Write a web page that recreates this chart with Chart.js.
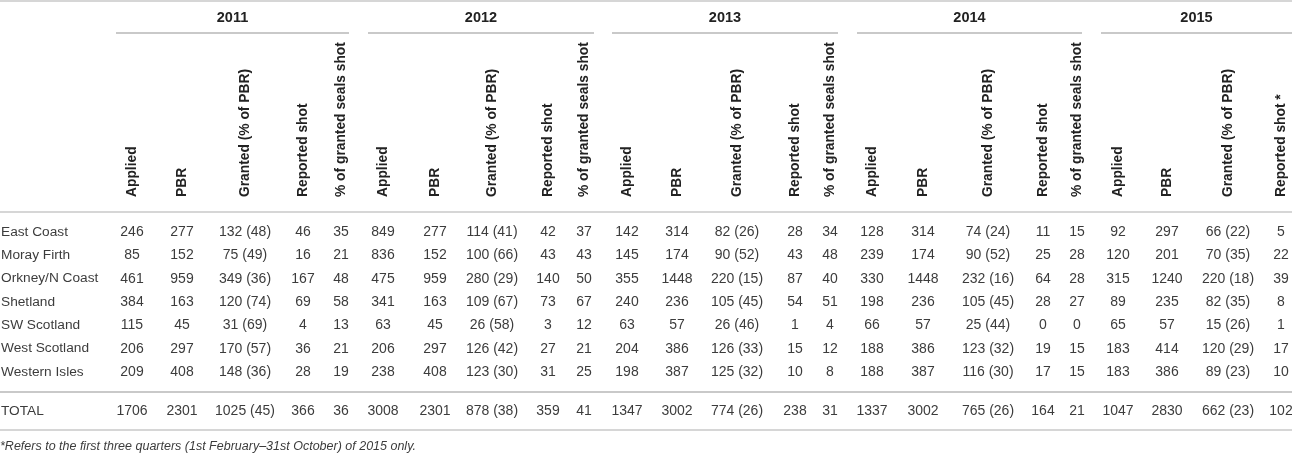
<!DOCTYPE html>
<html>
<head>
<meta charset="utf-8">
<script src="https://cdn.jsdelivr.net/npm/chart.js@4.4.1/dist/chart.umd.min.js"></script>
<style>
  html, body { margin: 0; padding: 0; background: #fff; }
  #wrap { width: 1292px; height: 453px; position: relative; }
</style>
</head>
<body>
<div id="wrap"><canvas id="sealTable"></canvas></div>
<script>
// Table data
const years = ['2011', '2012', '2013', '2014', '2015'];
const colHeads = ['Applied', 'PBR', 'Granted (% of PBR)', 'Reported shot', '% of granted seals shot'];
const colHeads2015 = ['Applied', 'PBR', 'Granted (% of PBR)', 'Reported shot *'];
const regions = ['East Coast', 'Moray Firth', 'Orkney/N Coast', 'Shetland', 'SW Scotland', 'West Scotland', 'Western Isles'];
const totalLabel = 'TOTAL';
const footnote = '*Refers to the first three quarters (1st February\u201331st October) of 2015 only.';

// one inner array per year, one value per region
const applied = [
  [246, 85, 461, 384, 115, 206, 209],
  [849, 836, 475, 341, 63, 206, 238],
  [142, 145, 355, 240, 63, 204, 198],
  [128, 239, 330, 198, 66, 188, 188],
  [92, 120, 315, 89, 65, 183, 183]
];
const pbr = [
  [277, 152, 959, 163, 45, 297, 408],
  [277, 152, 959, 163, 45, 297, 408],
  [314, 174, 1448, 236, 57, 386, 387],
  [314, 174, 1448, 236, 57, 386, 387],
  [297, 201, 1240, 235, 57, 414, 386]
];
const granted = [
  [132, 75, 349, 120, 31, 170, 148],
  [114, 100, 280, 109, 26, 126, 123],
  [82, 90, 220, 105, 26, 126, 125],
  [74, 90, 232, 105, 25, 123, 116],
  [66, 70, 220, 82, 15, 120, 89]
];
const grantedPct = [
  [48, 49, 36, 74, 69, 57, 36],
  [41, 66, 29, 67, 58, 42, 30],
  [26, 52, 15, 45, 46, 33, 32],
  [24, 52, 16, 45, 44, 32, 30],
  [22, 35, 18, 35, 26, 29, 23]
];
const reported = [
  [46, 16, 167, 69, 4, 36, 28],
  [42, 43, 140, 73, 3, 27, 31],
  [28, 43, 87, 54, 1, 15, 10],
  [11, 25, 64, 28, 0, 19, 17],
  [5, 22, 39, 8, 1, 17, 10]
];
const shotPct = [
  [35, 21, 48, 58, 13, 21, 19],
  [37, 43, 50, 67, 12, 21, 25],
  [34, 48, 40, 51, 4, 12, 8],
  [15, 28, 28, 27, 0, 15, 15],
  null
];
const totalApplied = [1706, 3008, 1347, 1337, 1047];
const totalPbr = [2301, 2301, 3002, 3002, 2830];
const totalGranted = [1025, 878, 774, 765, 662];
const totalGrantedPct = [45, 38, 26, 26, 23];
const totalReported = [366, 359, 238, 164, 102];
const totalShotPct = [36, 41, 31, 21, null];

// Layout (table units on the hidden linear scales)
const layout = {
  groupStart: [116, 368, 612, 857, 1101],
  groupEnd: [349, 594, 838, 1082, 1292],
  colOffset: [[16, 66, 129, 187, 225], [15, 67, 124, 180, 216], [15, 65, 125, 183, 218], [15, 66, 131, 186, 220], [17, 66, 127, 180]],
  yearY: 18, groupLineY: 33, headBottomY: 197, headLineY: 212,
  rowY0: 232, rowStep: 23.33, sepY: 392, totalY: 411, endY: 430, noteY: 447
};

const colX = (g, c) => layout.groupStart[g] + layout.colOffset[g][c];
const rowY = r => layout.rowY0 + r * layout.rowStep;

// build cells
const yearCells = years.map((y, g) => ({ x: (layout.groupStart[g] + layout.groupEnd[g]) / 2, y: layout.yearY, label: y }));
const headCells = [];
years.forEach((y, g) => {
  const heads = g === 4 ? colHeads2015 : colHeads;
  heads.forEach((h, c) => headCells.push({ x: colX(g, c), y: layout.headBottomY, label: h }));
});
const labelCells = regions.map((r, i) => ({ x: 1, y: rowY(i), label: r }));
labelCells.push({ x: 1, y: layout.totalY, label: totalLabel });

const valueCells = [];
years.forEach((y, g) => {
  const addCol = (c, vals, total, fmt) => {
    if (!vals) return;
    vals.forEach((v, i) => valueCells.push({ x: colX(g, c), y: rowY(i), label: fmt(v, i, false) }));
    valueCells.push({ x: colX(g, c), y: layout.totalY, label: fmt(total, -1, true) });
  };
  addCol(0, applied[g], totalApplied[g], v => String(v));
  addCol(1, pbr[g], totalPbr[g], v => String(v));
  addCol(2, granted[g], totalGranted[g], (v, i, t) => v + ' (' + (t ? totalGrantedPct[g] : grantedPct[g][i]) + ')');
  addCol(3, reported[g], totalReported[g], v => String(v));
  addCol(4, shotPct[g], totalShotPct[g], v => String(v));
});
const noteCells = [{ x: 0, y: layout.noteY, label: footnote }];

const FONT = '"Liberation Sans", Arial, Helvetica, sans-serif';

const tablePlugin = {
  id: 'tableText',
  beforeDatasetsDraw(chart) {
    const ctx = chart.ctx;
    const xs = chart.scales.x, ys = chart.scales.y;
    const rule = (x0, x1, y, w) => {
      ctx.beginPath();
      ctx.moveTo(xs.getPixelForValue(x0), ys.getPixelForValue(y));
      ctx.lineTo(xs.getPixelForValue(x1), ys.getPixelForValue(y));
      ctx.lineWidth = w;
      ctx.stroke();
    };
    ctx.save();
    ctx.strokeStyle = '#c9c9c9';
    rule(0, 1292, 1, 1.5);
    years.forEach((y, g) => rule(layout.groupStart[g], layout.groupEnd[g], layout.groupLineY, 2));
    rule(0, 1292, layout.headLineY, 1.5);
    rule(0, 1292, layout.sepY, 2);
    rule(0, 1292, layout.endY, 1.5);
    ctx.restore();
  },
  afterDatasetsDraw(chart) {
    const ctx = chart.ctx;
    chart.data.datasets.forEach((ds, di) => {
      const meta = chart.getDatasetMeta(di);
      meta.data.forEach((pt, i) => {
        ctx.save();
        ctx.font = ds.textFont;
        ctx.fillStyle = ds.textColor;
        ctx.textAlign = ds.textAlign;
        ctx.textBaseline = 'middle';
        ctx.translate(pt.x, pt.y);
        if (ds.rotate) ctx.rotate(-Math.PI / 2);
        ctx.fillText(ds.data[i].label, 0, 0);
        ctx.restore();
      });
    });
  }
};

const textSet = (data, font, color, align, rotate) => ({
  data, textFont: font, textColor: color, textAlign: align, rotate: !!rotate,
  pointRadius: 0, pointHoverRadius: 0, showLine: false
});

new Chart('sealTable', {
  type: 'scatter',
  data: {
    datasets: [
      textSet(yearCells, 'bold 14.5px ' + FONT, '#222', 'center'),
      textSet(headCells, 'bold 13.8px ' + FONT, '#222', 'left', true),
      textSet(labelCells, '13.7px ' + FONT, '#3c3c3c', 'left'),
      textSet(valueCells, '14px ' + FONT, '#3c3c3c', 'center'),
      textSet(noteCells, 'italic 12.5px ' + FONT, '#3c3c3c', 'left')
    ]
  },
  options: {
    responsive: true,
    maintainAspectRatio: false,
    animation: false,
    events: [],
    layout: { padding: 0 },
    plugins: { legend: { display: false }, tooltip: { enabled: false } },
    scales: {
      x: { type: 'linear', display: false, min: 0, max: 1292 },
      y: { type: 'linear', display: false, min: 0, max: 453, reverse: true }
    }
  },
  plugins: [tablePlugin]
});
</script>
</body>
</html>
